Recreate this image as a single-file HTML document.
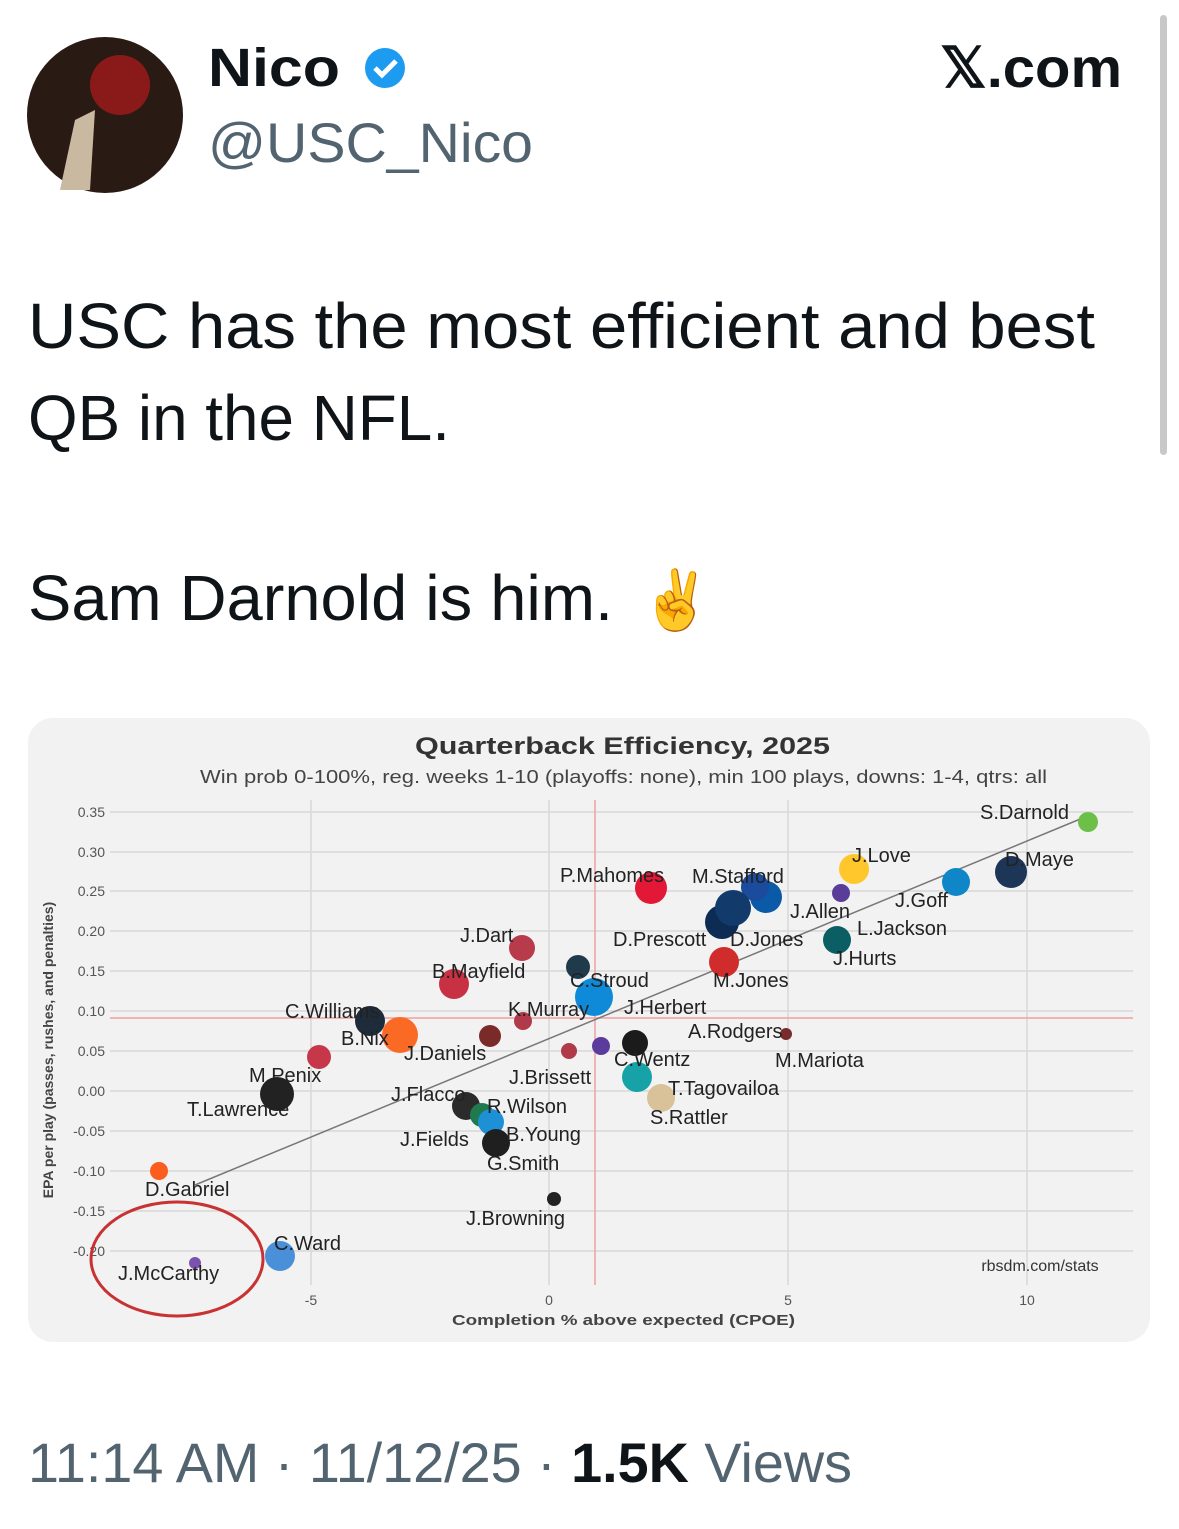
<!DOCTYPE html>
<html><head><meta charset="utf-8"><style>
html,body{margin:0;padding:0;background:#fff;}
body{width:1179px;height:1529px;position:relative;overflow:hidden;font-family:"Liberation Sans",sans-serif;}
</style></head><body>
<svg width="1179" height="1529" viewBox="0 0 1179 1529" xmlns="http://www.w3.org/2000/svg" style="position:absolute;left:0;top:0;font-family:'Liberation Sans',sans-serif">
<circle cx="105" cy="115" r="78" fill="#2a1a14"/>
<circle cx="120" cy="85" r="30" fill="#8a1a1a"/>
<path d="M60 190 L75 120 L95 110 L90 190 Z" fill="#c9b9a0"/>
<text x="208" y="86" font-size="54" font-weight="bold" fill="#0f1419" textLength="132" lengthAdjust="spacingAndGlyphs">Nico</text>
<circle cx="385" cy="68" r="20" fill="#1d9bf0"/>
<path d="M375 68 L382 75 L396 61" stroke="#fff" stroke-width="5" fill="none"/>
<text x="208" y="162" font-size="56" fill="#536471" textLength="325" lengthAdjust="spacingAndGlyphs">@USC_Nico</text>
<text x="940" y="87" font-size="56" font-weight="bold" fill="#0f1419" textLength="182" lengthAdjust="spacingAndGlyphs">𝕏.com</text>
<rect x="1160" y="15" width="7" height="440" rx="3.5" fill="#c8c8c8"/>
<text x="28" y="348" font-size="64" fill="#0f1419" textLength="1067" lengthAdjust="spacingAndGlyphs">USC has the most efficient and best</text>
<text x="28" y="440" font-size="64" fill="#0f1419" textLength="422" lengthAdjust="spacingAndGlyphs">QB in the NFL.</text>
<text x="28" y="620" font-size="64" fill="#0f1419" textLength="585" lengthAdjust="spacingAndGlyphs">Sam Darnold is him.</text>
<text x="640" y="620" font-size="58" font-family="'Noto Sans CJK JP',sans-serif" fill="#e8b030">✌</text>
<rect x="28" y="718" width="1122" height="624" rx="25" fill="#f2f2f2"/>
<text x="415" y="754" font-size="24" font-weight="bold" fill="#333" textLength="415" lengthAdjust="spacingAndGlyphs">Quarterback Efficiency, 2025</text>
<text x="200" y="783" font-size="18" fill="#444" textLength="847" lengthAdjust="spacingAndGlyphs">Win prob 0-100%, reg. weeks 1-10 (playoffs: none), min 100 plays, downs: 1-4, qtrs: all</text>
<g stroke="#d8d8d8" stroke-width="1.5">
<line x1="110" y1="812" x2="1133" y2="812"/><line x1="110" y1="852" x2="1133" y2="852"/>
<line x1="110" y1="891" x2="1133" y2="891"/><line x1="110" y1="931" x2="1133" y2="931"/>
<line x1="110" y1="971" x2="1133" y2="971"/><line x1="110" y1="1011" x2="1133" y2="1011"/>
<line x1="110" y1="1051" x2="1133" y2="1051"/><line x1="110" y1="1091" x2="1133" y2="1091"/>
<line x1="110" y1="1131" x2="1133" y2="1131"/><line x1="110" y1="1171" x2="1133" y2="1171"/>
<line x1="110" y1="1211" x2="1133" y2="1211"/><line x1="110" y1="1251" x2="1133" y2="1251"/>
<line x1="311" y1="800" x2="311" y2="1285"/><line x1="549" y1="800" x2="549" y2="1285"/>
<line x1="788" y1="800" x2="788" y2="1285"/><line x1="1027" y1="800" x2="1027" y2="1285"/>
</g>
<line x1="110" y1="1018" x2="1133" y2="1018" stroke="#f0a0a0" stroke-width="1.5"/>
<line x1="595" y1="800" x2="595" y2="1285" stroke="#f0a0a0" stroke-width="1.5"/>
<g font-size="14" fill="#555" text-anchor="end">
<text x="105" y="817">0.35</text><text x="105" y="857">0.30</text><text x="105" y="896">0.25</text>
<text x="105" y="936">0.20</text><text x="105" y="976">0.15</text><text x="105" y="1016">0.10</text>
<text x="105" y="1056">0.05</text><text x="105" y="1096">0.00</text><text x="105" y="1136">-0.05</text>
<text x="105" y="1176">-0.10</text><text x="105" y="1216">-0.15</text><text x="105" y="1256">-0.20</text>
</g>
<g font-size="14" fill="#555" text-anchor="middle">
<text x="311" y="1305">-5</text><text x="549" y="1305">0</text><text x="788" y="1305">5</text><text x="1027" y="1305">10</text>
</g>
<text x="452" y="1325" font-size="15" font-weight="bold" fill="#444" textLength="343" lengthAdjust="spacingAndGlyphs">Completion % above expected (CPOE)</text>
<text transform="translate(53,1050) rotate(-90)" font-size="14" font-weight="bold" fill="#444" text-anchor="middle">EPA per play (passes, rushes, and penalties)</text>
<text x="1040" y="1271" font-size="16" fill="#333" text-anchor="middle">rbsdm.com/stats</text>
<line x1="195" y1="1185" x2="1090" y2="815" stroke="#777" stroke-width="1.5"/>
<g>
<circle cx="1088" cy="822" r="10" fill="#6cc04a"/>
<circle cx="1011" cy="872" r="16" fill="#1d3557"/>
<circle cx="956" cy="882" r="14" fill="#0e86c8"/>
<circle cx="854" cy="869" r="15" fill="#ffc72c"/>
<circle cx="841" cy="893" r="9" fill="#5a3d99"/>
<circle cx="837" cy="940" r="14" fill="#0b5e63"/>
<circle cx="766" cy="897" r="16" fill="#0b5aa8"/>
<circle cx="755" cy="887" r="14" fill="#1b4b9c"/>
<circle cx="722" cy="922" r="17" fill="#0d2c54"/>
<circle cx="733" cy="908" r="18" fill="#123a6b"/>
<circle cx="724" cy="962" r="15" fill="#d02c2c"/>
<circle cx="651" cy="888" r="16" fill="#e31837"/>
<circle cx="578" cy="967" r="12" fill="#1f3a4a"/>
<circle cx="594" cy="997" r="19" fill="#0e8ad8"/>
<circle cx="523" cy="1021" r="9" fill="#b03a4a"/>
<circle cx="522" cy="948" r="13" fill="#b73b4b"/>
<circle cx="454" cy="984" r="15" fill="#c83143"/>
<circle cx="786" cy="1034" r="6" fill="#7a2c2c"/>
<circle cx="635" cy="1043" r="13" fill="#1b1b1b"/>
<circle cx="601" cy="1046" r="9" fill="#5b3b9b"/>
<circle cx="569" cy="1051" r="8" fill="#b03a4a"/>
<circle cx="637" cy="1077" r="15" fill="#17a2a8"/>
<circle cx="661" cy="1098" r="14" fill="#d9c29a"/>
<circle cx="490" cy="1036" r="11" fill="#7b2a2a"/>
<circle cx="400" cy="1035" r="18" fill="#fb6a25"/>
<circle cx="370" cy="1021" r="15" fill="#1d2b3a"/>
<circle cx="319" cy="1057" r="12" fill="#c7374a"/>
<circle cx="277" cy="1094" r="17" fill="#222"/>
<circle cx="466" cy="1106" r="14" fill="#2b2b2b"/>
<circle cx="482" cy="1115" r="12" fill="#1f7a50"/>
<circle cx="491" cy="1122" r="13" fill="#1e90d6"/>
<circle cx="496" cy="1143" r="14" fill="#1f1f1f"/>
<circle cx="554" cy="1199" r="7" fill="#222"/>
<circle cx="159" cy="1171" r="9" fill="#fb5d1e"/>
<circle cx="280" cy="1256" r="15" fill="#4a90d9"/>
<circle cx="195" cy="1263" r="6" fill="#7b52ae"/>
</g>
<g font-size="20" fill="#222">
<text x="980" y="819">S.Darnold</text><text x="1005" y="866">D.Maye</text><text x="895" y="907">J.Goff</text>
<text x="852" y="862">J.Love</text><text x="790" y="918">J.Allen</text><text x="857" y="935">L.Jackson</text>
<text x="833" y="965">J.Hurts</text><text x="692" y="883">M.Stafford</text><text x="613" y="946">D.Prescott</text>
<text x="730" y="946">D.Jones</text><text x="713" y="987">M.Jones</text><text x="560" y="882">P.Mahomes</text>
<text x="570" y="987">C.Stroud</text><text x="624" y="1014">J.Herbert</text><text x="508" y="1016">K.Murray</text>
<text x="460" y="942">J.Dart</text><text x="432" y="978">B.Mayfield</text><text x="688" y="1038">A.Rodgers</text>
<text x="775" y="1067">M.Mariota</text><text x="614" y="1066">C.Wentz</text><text x="668" y="1095">T.Tagovailoa</text>
<text x="650" y="1124">S.Rattler</text><text x="509" y="1084">J.Brissett</text><text x="404" y="1060">J.Daniels</text>
<text x="341" y="1045">B.Nix</text><text x="285" y="1018">C.Williams</text><text x="249" y="1082">M.Penix</text>
<text x="187" y="1116">T.Lawrence</text><text x="391" y="1101">J.Flacco</text><text x="487" y="1113">R.Wilson</text>
<text x="400" y="1146">J.Fields</text><text x="506" y="1141">B.Young</text><text x="487" y="1170">G.Smith</text>
<text x="466" y="1225">J.Browning</text><text x="145" y="1196">D.Gabriel</text><text x="274" y="1250">C.Ward</text>
<text x="118" y="1280">J.McCarthy</text>
</g>
<ellipse cx="177" cy="1259" rx="86" ry="57" fill="none" stroke="#c83232" stroke-width="3"/>
<text x="28" y="1482" font-size="56" fill="#536471" textLength="824" lengthAdjust="spacingAndGlyphs">11:14 AM · 11/12/25 · <tspan font-weight="bold" fill="#0f1419">1.5K</tspan> Views</text>
</svg>
</body></html>
